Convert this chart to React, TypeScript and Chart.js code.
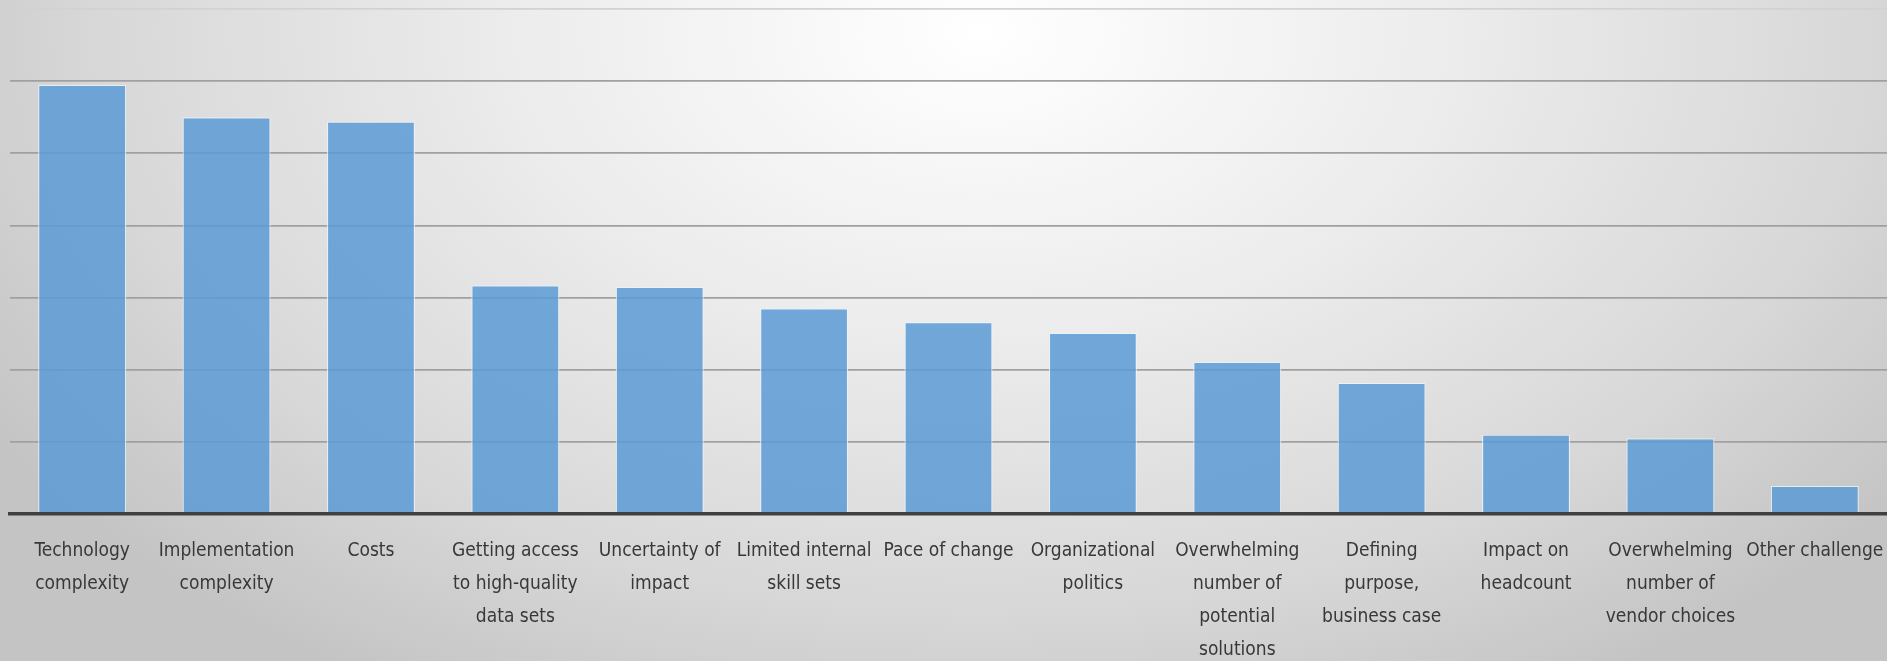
import React, { useEffect, useRef } from "react";
import { Chart, registerables } from "chart.js";

Chart.register(...registerables);

const categories: string[][] = [
  ["Technology", "complexity"],
  ["Implementation", "complexity"],
  ["Costs"],
  ["Getting access", "to high-quality", "data sets"],
  ["Uncertainty of", "impact"],
  ["Limited internal", "skill sets"],
  ["Pace of change"],
  ["Organizational", "politics"],
  ["Overwhelming", "number of", "potential", "solutions"],
  ["Defining", "purpose,", "business case"],
  ["Impact on", "headcount"],
  ["Overwhelming", "number of", "vendor choices"],
  ["Other challenge"],
];

const values: number[] = [29.75, 27.5, 27.2, 15.85, 15.75, 14.25, 13.3, 12.55, 10.55, 9.1, 5.5, 5.25, 1.95];

const yMax = 35;
const yStep = 5;

export default function App() {
  const ref = useRef<HTMLCanvasElement | null>(null);

  useEffect(() => {
    document.body.style.margin = "0";
    const canvas = ref.current;
    if (!canvas) return;
    const chart = new Chart(canvas, {
      type: "bar",
      data: {
        labels: categories,
        datasets: [
          {
            data: values,
            backgroundColor: "rgba(91,155,213,0.85)",
            borderColor: "rgba(235,242,250,0.8)",
            borderWidth: 1.2,
            categoryPercentage: 0.61,
            barPercentage: 1,
          },
        ],
      },
      options: {
        animation: false,
        responsive: true,
        maintainAspectRatio: false,
        layout: { padding: { left: 0, top: 9, right: 0, bottom: 0 } },
        plugins: { legend: { display: false }, tooltip: { enabled: false } },
        scales: {
          x: {
            grid: { display: false, drawTicks: false },
            border: { display: true, color: "#404040", width: 3.5, z: 1 },
            ticks: {
              color: "#383838",
              font: { family: "'DejaVu Sans Condensed', sans-serif", size: 19, lineHeight: "33px" },
              padding: 21,
              maxRotation: 0,
              autoSkip: false,
            },
            afterFit: (scale: any) => {
              scale.height = 147;
              scale.paddingLeft = 0;
              scale.paddingRight = 0;
            },
          },
          y: {
            min: 0,
            max: yMax,
            ticks: { display: false, stepSize: yStep },
            border: { display: false },
            grid: {
              drawTicks: false,
              color: (ctx: any) => (ctx.tick && ctx.tick.value === yMax ? "#d2d2d2" : "#a0a0a0"),
              lineWidth: 1.7,
            },
            afterFit: (scale: any) => {
              scale.width = 10;
            },
          },
        },
      },
    });
    return () => chart.destroy();
  }, []);

  return (
    <div
      style={{
        position: "absolute",
        left: 0,
        top: 0,
        width: 1887,
        height: 661,
        background:
          "radial-gradient(ellipse 62% 115% at 52% 5%, #ffffff 0%, #ececec 40%, #d8d8d8 75%, #c4c4c4 100%)",
      }}
    >
      <canvas ref={ref} />
    </div>
  );
}
